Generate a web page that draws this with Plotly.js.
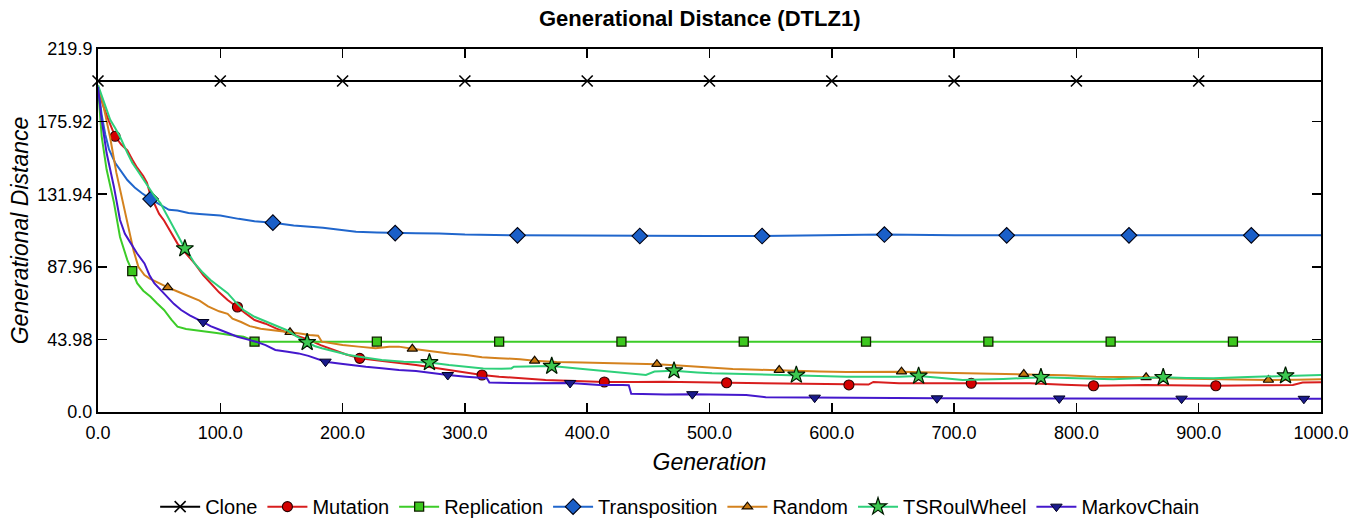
<!DOCTYPE html>
<html><head><meta charset="utf-8">
<script src="https://cdn.plot.ly/plotly-3.0.1.min.js"></script>
<style>html,body{margin:0;padding:0;background:#fff}#chart{width:1351px;height:524px}</style>
</head><body><div id="chart"></div><script>
// ---- data ----
const seriesNames = ['Clone','Mutation','Replication','Transposition','Random','TSRoulWheel','MarkovChain'];

const xTicks = [0,100,200,300,400,500,600,700,800,900,1000];
const xTickText = ['0.0','100.0','200.0','300.0','400.0','500.0','600.0','700.0','800.0','900.0','1000.0'];
const yTicks = [0,43.98,87.96,131.94,175.92,219.9];
const yTickText = ['0.0','43.98','87.96','131.94','175.92','219.9'];

const cloneGen = [0,100,200,300,400,500,600,700,800,900,1000];
const cloneGD  = [200.5,200.5,200.5,200.5,200.5,200.5,200.5,200.5,200.5,200.5,200.5];
const cloneMarks = [0,100,200,300,400,500,600,700,800,900];

const mutationGen = [0,4,9,14,19,24,28,32,37,40,43,46,50,54,57,61,65,72,79,86,92,99,106,114,121,128,137,146,156,165,173,182,192,203,214,224,235,248,260,273,287,300,314,328,345,366,390,414,440,462,490,514,540,557,585,614,630,634,640,655,690,714,762,790,814,857,885,914,950,977,985,1000];
const mutationGD  = [197,186,176,167,162,158.5,153,148,143,139,131,126,120,116,112,107,102,96,90,83,78,72.5,67.8,63.6,59.5,55.7,53.5,50.5,47.8,45.5,43.6,40.5,37.6,34.8,32.5,31.5,30.5,29.5,28.5,27,25.4,23.8,22.4,21.4,20.5,19.4,18.8,18.2,18.2,18.4,18,17.7,17.5,17.4,17,16.4,16.6,18.2,18,17.4,17.4,17.4,17.4,16.5,15.9,16.4,16.2,15.9,16.2,16.4,17.8,18];
const mutationMarks = [14,114,214,314,414,514,614,714,814,914];

const replicationGen = [0,3,7,13,18,24,28,32,37,43,48,54,60,65,72,79,88,97,108,119,124,128,228,328,428,528,628,728,828,928,1000];
const replicationGD  = [197,167,147,127,106,92,85.4,78,73.5,69.8,66,61.8,56,51.7,50.3,49.7,48.6,47.8,46.6,45.6,44.2,42.6,42.6,42.6,42.6,42.6,42.6,42.6,42.6,42.6,42.6];
const replicationMarks = [28,128,228,328,428,528,628,728,828,928];

const transpositionGen = [0,3,6,9,14,20,24,30,36,43,51,58,65,74,83,92,100,115,128,143,160,184,200,211,228,243,260,279,300,343,380,443,500,543,600,643,700,743,843,943,1000];
const transpositionGD  = [198,180,168,159,151,144.5,140.5,136,132.5,129,125.4,122.5,122,120.5,120,119.5,119,117,115.5,114.7,113,111.6,110.3,109.2,108.8,108.4,108.3,108.2,107.5,107,106.8,106.6,106.6,106.6,107,107.5,107,107,107,107,107];
const transpositionMarks = [43,143,243,343,443,543,643,743,843,943];

const randomGen = [0,3,6,10,15,20,25,29,33,38,42,50,57,65,75,83,90,99,106,110,117,124,133,143,157,165,173,180,183,190,200,213,227,238,246,257,265,273,287,301,314,328,345,357,375,396,420,437,457,475,492,505,519,540,557,573,590,612,639,657,690,721,757,790,816,840,857,880,912,935,957,980,1000];
const randomGD  = [197,190,180,166,145,128,110,98,88,83,81,78,75.5,73,70,67.5,64,61,59.5,56.5,54.5,52,50.5,49.7,48.3,47.5,46.6,46.2,42.6,41.8,40.6,39.6,38.6,39.5,39.6,38.3,37.5,36.5,35.5,34.5,33.2,32.6,32,31,30.3,30,29.7,29.5,29,28.2,27.4,27,26,25.6,25.4,25,24.6,24.2,24.3,24.4,23.8,23.4,23,22.2,21.4,21.2,21,20.3,19.8,19.6,19.4,19.6,19.8];
const randomMarks = [57,157,257,357,457,557,657,757,857,957];

const tsRoulGen = [0,5,10,14,18,24,28,32,37,42,46,51,56,62,66,71,75,79,85,92,99,106,112,119,128,137,146,154,162,171,177,183,194,205,218,232,250,271,287,301,315,330,338,340,355,371,390,407,425,440,448,455,471,490,502,520,543,571,590,612,655,671,690,707,740,762,771,800,830,850,871,890,912,940,971,990,1000];
const tsRoulGD  = [198,187,177,172,166.7,157,151,146.6,141,135.6,131,126.6,120,112,106,99,95,90,85,80,76,72,67,61.8,57.7,55,52,49.7,46,42.2,40,38.6,36.5,34.5,33,31.5,30.5,30,28.5,27.4,26.4,26.2,26.4,27.4,27.6,27.8,26.5,25.4,24,23,22.4,24.5,25,24,23.4,23.2,22.8,22.4,22,21.4,21.4,21.8,20.6,19.4,20,20.4,21,20.4,19.8,20.4,21,20.6,20.4,21.2,22,22.3,22.4];
const tsRoulMarks = [71,171,271,371,471,571,671,771,871,971];

const markovGen = [0,3,7,13,18,22,27,32,38,42,46,51,56,62,68,75,86,92,100,106,114,122,129,137,145,155,164,172,178,186,197,208,219,232,246,260,273,286,301,312,318,320,340,355,386,410,429,434,436,464,486,505,530,546,573,586,620,655,686,786,886,986,1000];
const markovGD  = [197,177,157,136.5,116.3,108,102,96,90,83,78,74,69.8,65.5,61.8,58.5,54.5,52,49.7,47.8,45.6,44,42.6,40.5,37.6,36.5,35.5,34,32.5,30.5,29.4,28.3,27.4,26.5,25.4,24.8,23.5,22.4,21.4,21,20.4,17.8,17.5,17.4,17.6,16.4,16.4,16.2,11,10.6,10.8,10.6,10.3,9,8.8,8.7,8.5,8.3,8.3,8.2,8.1,8,8];
const markovMarks = [86,186,286,386,486,586,686,786,886,986];

// ---- styles ----
const styles = [
  {line:'#000000', fill:'#000000', symbol:'x-thin', size:11, lw:1.6, mline:'#000000'},
  {line:'#d81e1e', fill:'#d40000', symbol:'circle', size:10, lw:1.1, mline:'#2a0000'},
  {line:'#3ccc28', fill:'#3cc81e', symbol:'square', size:9, lw:1.3, mline:'#102000'},
  {line:'#2066cc', fill:'#1a5fc8', symbol:'diamond', size:12, lw:1.1, mline:'#000010'},
  {line:'#d4821e', fill:'#c8780f', symbol:'triangle-up', size:9, lw:1.2, mline:'#1a0e00'},
  {line:'#2ed07a', fill:'#3cc850', symbol:'star', size:13, lw:1.2, mline:'#001a00'},
  {line:'#4418cc', fill:'#1a1a8c', symbol:'triangle-down', size:10, lw:1.0, mline:'#000020'}
];
const gens = [cloneGen, mutationGen, replicationGen, transpositionGen, randomGen, tsRoulGen, markovGen];
const vals = [cloneGD, mutationGD, replicationGD, transpositionGD, randomGD, tsRoulGD, markovGD];
const marks = [cloneMarks, mutationMarks, replicationMarks, transpositionMarks, randomMarks, tsRoulMarks, markovMarks];

const traces = seriesNames.map((name, k) => {
  const s = styles[k];
  const sel = gens[k].map((g, i) => marks[k].indexOf(g) >= 0 ? i : -1).filter(i => i >= 0);
  return {
    type: 'scatter', mode: 'lines+markers', name: name,
    x: gens[k], y: vals[k],
    line: {color: s.line, width: 2},
    marker: {symbol: s.symbol, size: s.size, color: s.fill, line: {color: s.mline, width: s.lw}},
    selectedpoints: sel,
    selected: {marker: {opacity: 1}},
    unselected: {marker: {opacity: 0}},
    cliponaxis: false,
    hoverinfo: 'skip'
  };
});

const axisCommon = {
  showline: true, linecolor: '#000', linewidth: 2, mirror: 'ticks',
  ticks: 'inside', ticklen: 9, tickwidth: 1.5, tickcolor: '#000',
  showgrid: false, zeroline: false, automargin: false,
  tickfont: {size: 18, color: '#000'}
};

const layout = {
  width: 1351, height: 524,
  margin: {l: 98, r: 30, t: 49, b: 112, autoexpand: false},
  paper_bgcolor: '#fff', plot_bgcolor: '#fff',
  font: {family: '"Liberation Sans", Arial, sans-serif', color: '#000'},
  showlegend: true,
  title: {text: '<b>Generational Distance (DTLZ1)</b>', font: {size: 22, color: '#000'},
          x: 0.492, xref: 'paper', xanchor: 'center', y: 0.966, yref: 'container', yanchor: 'middle'},
  xaxis: Object.assign({}, axisCommon, {
    range: [0, 1000], tickvals: xTicks, ticktext: xTickText, ticklabelstandoff: 3,
    title: {text: '<i>Generation</i>', font: {size: 23, color: '#000'}, standoff: 12}
  }),
  yaxis: Object.assign({}, axisCommon, {
    range: [0, 219.9], tickvals: yTicks, ticktext: yTickText,
    title: {text: '<i>Generational Distance</i>', font: {size: 23, color: '#000'}, standoff: 2}
  }),
  legend: {orientation: 'h', x: 0.476, xanchor: 'center', y: -0.207, yanchor: 'top',
           font: {size: 20, color: '#000'}, bgcolor: 'rgba(0,0,0,0)', itemwidth: 40}
};

Plotly.newPlot('chart', traces, layout, {displayModeBar: false, staticPlot: true});
</script></body></html>
